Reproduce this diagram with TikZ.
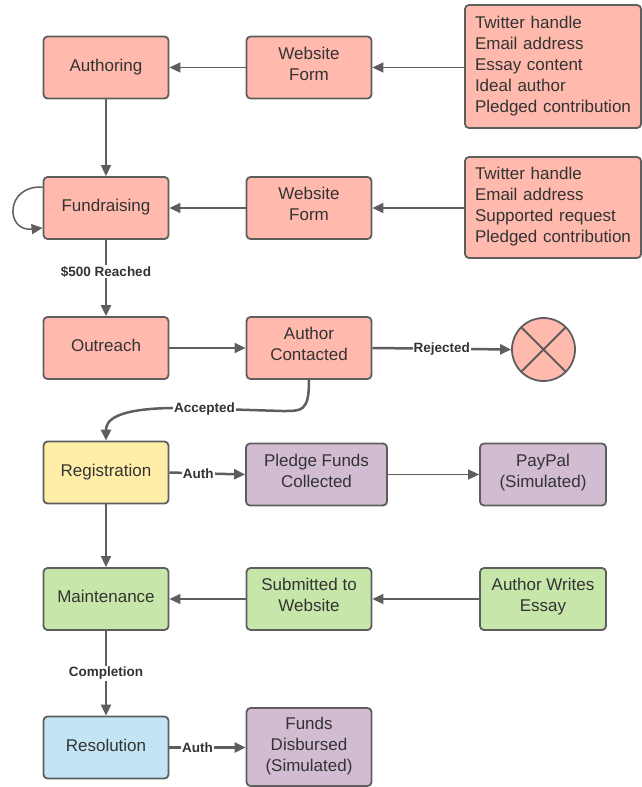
\documentclass[tikz,border=0pt]{standalone}
\usepackage{fontspec}
\setmainfont{Liberation Sans}
\usetikzlibrary{arrows.meta,calc}
\definecolor{pinkf}{HTML}{FFB9AD}
\definecolor{yelf}{HTML}{FFEEA8}
\definecolor{purf}{HTML}{D1BCD2}
\definecolor{grnf}{HTML}{C7E7AA}
\definecolor{bluf}{HTML}{C3E4F5}
\definecolor{edge}{HTML}{5E5E5E}
\definecolor{txt}{HTML}{333333}
\tikzset{
  box/.style={draw=edge, line width=1.8pt, rounded corners=4pt, minimum width=125pt, minimum height=62pt,
    align=center, text=txt, font=\fontsize{17}{21}\selectfont, inner sep=2pt,
    execute at begin node={\rule{0pt}{12.5pt}},
    execute at end node={\rule[-5.5pt]{0pt}{5.5pt}}},
  twoline/.style={execute at end node={\rule[-7.5pt]{0pt}{7.5pt}}},
  threeline/.style={execute at end node={\rule[-2.5pt]{0pt}{2.5pt}}},
  pinkbox/.style={box, fill=pinkf},
  yelbox/.style={box, fill=yelf},
  purbox/.style={box, fill=purf},
  grnbox/.style={box, fill=grnf},
  blubox/.style={box, fill=bluf},
  infobox/.style={pinkbox, align=left, text width=156pt, inner xsep=10pt, minimum width=176pt,
    execute at end node={\rule[-3.6pt]{0pt}{3.6pt}}},
  conn/.style={draw=edge, line width=1.5pt, -{Triangle[length=11pt,width=10pt]}},
  thick conn/.style={conn, line width=2.5pt},
  lbl/.style={fill=white, text=txt, inner sep=1pt, font=\fontsize{13.5}{15}\selectfont\bfseries},
}
\begin{document}
\begin{tikzpicture}[x=1pt,y=-1pt]
\useasboundingbox (0,0) rectangle (642,787);
% row 1
\node[pinkbox] (auth) at (106,67.5) {Authoring};
\node[pinkbox, twoline] (wf1) at (309,67.5) {Website\\Form};
\node[infobox, minimum height=123pt] (info1) at (553,66.5) {Twitter handle\\Email address\\Essay content\\Ideal author\\Pledged contribution};
% row 2
\node[pinkbox] (fund) at (106,208) {Fundraising};
\node[pinkbox, twoline] (wf2) at (309,208) {Website\\Form};
\node[infobox, minimum height=101pt] (info2) at (553,207.5) {Twitter handle\\Email address\\Supported request\\Pledged contribution};
% row 3
\node[pinkbox] (outr) at (106,348) {Outreach};
\node[pinkbox, twoline] (ac) at (309,348) {Author\\Contacted};
\node[circle, draw=edge, fill=pinkf, line width=1.8pt, minimum size=63pt, inner sep=0pt,
  path picture={\draw[edge, line width=1.8pt] (path picture bounding box.north west) -- (path picture bounding box.south east)
  (path picture bounding box.north east) -- (path picture bounding box.south west);}] (rej) at (543.5,349.5) {};
% row 4
\node[yelbox] (reg) at (106,472.5) {Registration};
\node[purbox, twoline, minimum width=141pt] (pledge) at (316.5,474.5) {Pledge Funds\\Collected};
\node[purbox, twoline, minimum width=126pt] (paypal) at (543,474.5) {PayPal\\(Simulated)};
% row 5
\node[grnbox] (maint) at (106,599) {Maintenance};
\node[grnbox, twoline] (sub) at (309,599) {Submitted to\\Website};
\node[grnbox, twoline, minimum width=126pt] (essay) at (543,599) {Author Writes\\Essay};
% row 6
\node[blubox] (resol) at (106,747.5) {Resolution};
\node[purbox, threeline, minimum height=78pt] (disb) at (309,747) {Funds\\Disbursed\\(Simulated)};
% connectors
\draw[conn] (wf1) -- (auth);
\draw[conn] (info1.west |- wf1) -- (wf1);
\draw[conn] (auth) -- (fund);
\draw[conn] ([yshift=-11pt]fund.north west) .. controls (5,185) and (5,232) .. ([yshift=12pt]fund.south west);
\draw[conn] (wf2) -- (fund);
\draw[conn] (info2.west |- wf2) -- (wf2);
\draw[thick conn] (fund) -- node[lbl, pos=0.42] {\$500 Reached} (outr);
\draw[conn] (outr) -- (ac);
\draw[thick conn] (ac.east) -- node[lbl, pos=0.5] {Rejected} (rej.west);
\draw[thick conn] (ac.south) .. controls (309,412) and (302,411) .. (282,411) -- node[lbl, pos=0.8] {Accepted} (185,408) .. controls (112,407) and (106,422) .. (reg.north);
\draw[thick conn] (reg.east) -- node[lbl, pos=0.38] {Auth} (pledge.west);
\draw[conn] (pledge) -- (paypal);
\draw[conn] (reg) -- (maint);
\draw[conn] (sub) -- (maint);
\draw[conn] (essay) -- (sub);
\draw[thick conn] (maint) -- node[lbl, pos=0.5] {Completion} (resol);
\draw[thick conn] (resol.east) -- node[lbl, pos=0.37] {Auth} (disb.west |- resol.east);
\end{tikzpicture}
\end{document}
